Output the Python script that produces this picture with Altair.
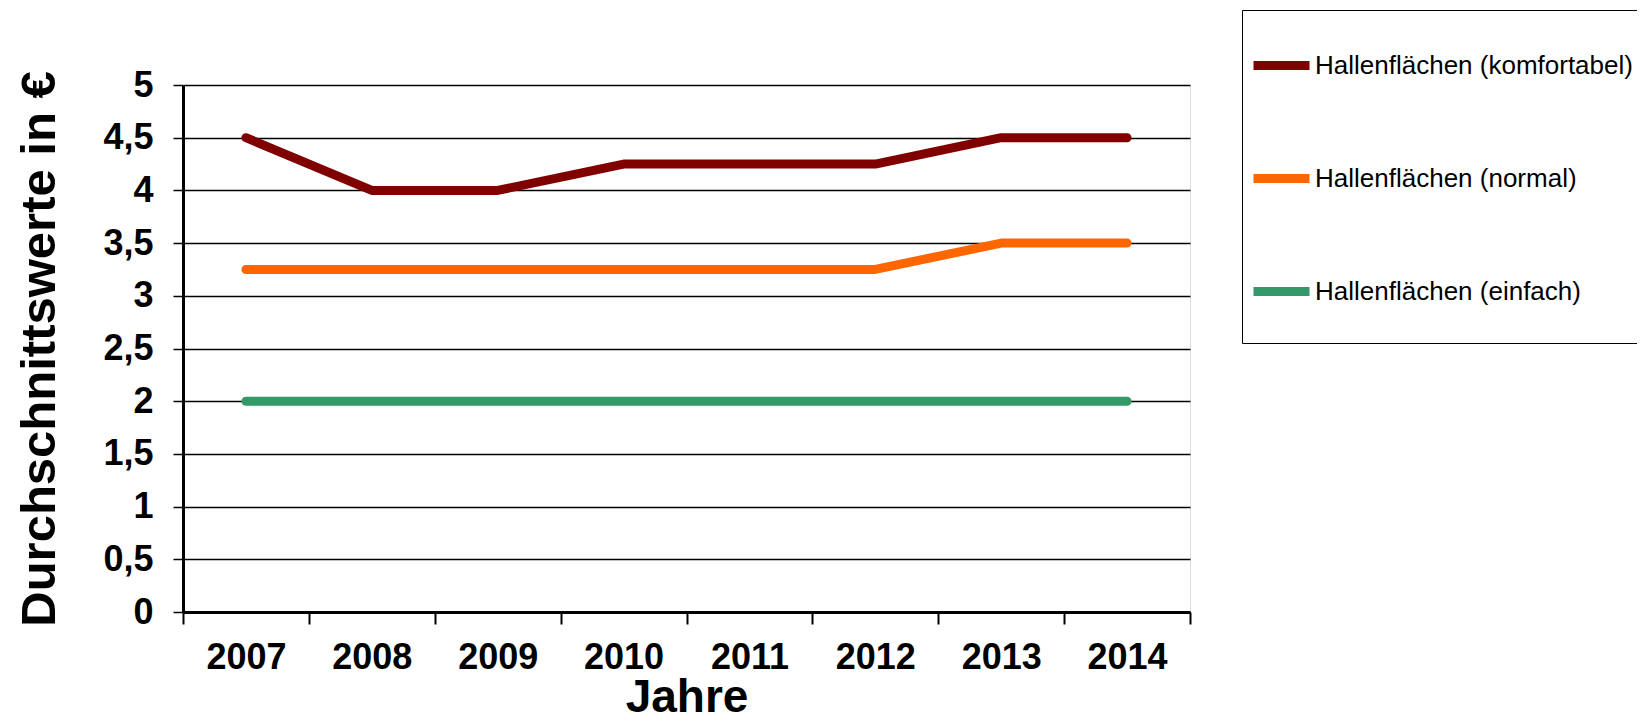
import altair as alt
import pandas as pd

years = ["2007", "2008", "2009", "2010", "2011", "2012", "2013", "2014"]
komfortabel = [4.5, 4.0, 4.0, 4.25, 4.25, 4.25, 4.5, 4.5]
normal = [3.25, 3.25, 3.25, 3.25, 3.25, 3.25, 3.5, 3.5]
einfach = [2.0, 2.0, 2.0, 2.0, 2.0, 2.0, 2.0, 2.0]
series_names = ["Hallenflächen (komfortabel)", "Hallenflächen (normal)", "Hallenflächen (einfach)"]
series_colors = ["#800000", "#FF6600", "#339966"]
y_ticks = [0, 0.5, 1, 1.5, 2, 2.5, 3, 3.5, 4, 4.5, 5]

rows = []
for name, vals in zip(series_names, [komfortabel, normal, einfach]):
    for yr, v in zip(years, vals):
        rows.append({"Jahr": yr, "Wert": v, "Serie": name})
df = pd.DataFrame(rows)

FONT = "Liberation Sans"

chart = alt.Chart(df).mark_line(strokeWidth=9, strokeCap="round", strokeJoin="round").encode(
    x=alt.X("Jahr:N", sort=years, title="Jahre",
            scale=alt.Scale(paddingInner=0, paddingOuter=0),
            axis=alt.Axis(labelAngle=0, tickBand="extent", ticks=True, tickSize=12, tickWidth=2,
                          tickColor="black", domainColor="black", domainWidth=3,
                          labelFontSize=36, labelFontWeight="bold", labelFont=FONT, labelColor="black",
                          labelPadding=16, titleFontSize=46, titleFontWeight="bold", titleFont=FONT,
                          titleColor="black", titlePadding=0, grid=False)),
    y=alt.Y("Wert:Q", title="Durchschnittswerte in €",
            scale=alt.Scale(domain=[0, 5], nice=False),
            axis=alt.Axis(values=y_ticks, format="~g", labelExpr="replace(datum.label, '.', ',')",
                          tickSize=10, tickWidth=1.5, tickColor="black", domainColor="black", domainWidth=3,
                          grid=True, gridColor="black", gridWidth=1.5, gridOpacity=1,
                          labelFontSize=36, labelFontWeight="bold", labelFont=FONT, labelColor="black",
                          labelPadding=20, titleFontSize=49, titleFontWeight="bold", titleFont=FONT,
                          titleColor="black", titlePadding=38)),
    color=alt.Color("Serie:N", sort=series_names,
                    scale=alt.Scale(domain=series_names, range=series_colors),
                    legend=alt.Legend(title=" ", titleOrient="bottom", titleFontSize=1, titlePadding=9,
                                      orient="none", legendX=1059, legendY=-75,
                                      symbolType="stroke", symbolSize=3136, symbolStrokeWidth=9,
                                      symbolOffset=-16,
                                      labelFontSize=26, labelFont=FONT, labelColor="black",
                                      labelOffset=1, labelLimit=600, rowPadding=62,
                                      padding=23, strokeColor="black")),
).properties(
    width=1007, height=527,
    autosize=alt.AutoSizeParams(type="none"),
    padding={"left": 175, "top": 77, "right": 447, "bottom": 110},
).configure_view(stroke="black", strokeWidth=2).configure(background="white")

chart.save("out.html", embed_options={"renderer": "svg", "actions": False})
